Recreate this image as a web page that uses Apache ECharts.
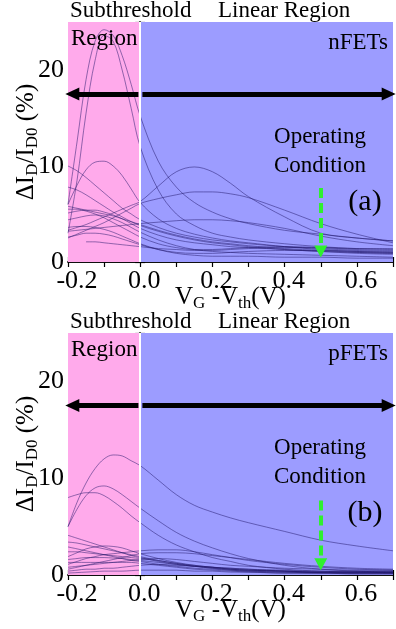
<!DOCTYPE html>
<html><head><meta charset="utf-8">
<script src="https://cdn.jsdelivr.net/npm/echarts@6/dist/echarts.min.js"></script>
<style>html,body{margin:0;padding:0;background:#fff}#c{width:396px;height:629px}</style>
</head><body><div id="c"></div>
<script>
// Gate overdrive V_G - V_th (V) sample points
const xs = [-0.2,-0.175,-0.15,-0.125,-0.1,-0.075,-0.05,-0.025,0,0.05,0.1,0.15,0.2,0.25,0.3,0.4,0.5,0.6,0.7];

// (a) nFETs: Delta I_D / I_D0 (%)
const nA = [6,12.5,19,23,24.2,23.6,21.5,18.5,15.2,10.5,7.8,6.2,5.2,4.5,4.0,3.3,2.9,2.5,2.2];
const nB = [3,8.5,15.5,21,23.6,23,20,16,12,7.5,5.0,3.8,3.0,2.6,2.3,1.9,1.6,1.4,1.3];
const nC = [6,8,9.6,10.4,10.5,10,9,7.6,6.2,4.5,3.5,2.9,2.5,2.2,2.0,1.6,1.3,1.1,1.0];
const nD = [10,9.5,8.8,8,7.2,6.4,5.6,5.0,4.4,3.6,3.0,2.6,2.3,2.1,1.9,1.6,1.4,1.2,1.1];
const nE = [3.3,3.6,3.9,4.3,4.7,5.1,5.5,5.9,6.3,7.9,9.4,9.9,9.4,8.2,6.8,4.7,3.0,2.5,2.2];
const nF = [2.5,2.9,3.3,3.7,4.1,4.6,5.1,5.6,6.1,6.6,7.0,7.3,7.3,7.1,6.7,5.4,4.0,2.9,2.0];
const nG = [3.2,3.3,3.4,3.5,3.6,3.7,3.8,3.9,4.0,4.15,4.3,4.4,4.4,4.3,4.1,3.5,2.7,2.1,1.7];
const nH = [7.8,7.5,7.0,6.4,5.8,5.2,4.7,4.2,3.8,3.2,2.7,2.3,2.0,1.8,1.6,1.3,1.1,0.9,0.8];
const nI = [null,null,2.1,2.1,2.0,1.9,1.8,1.7,1.6,1.4,1.3,1.2,1.2,1.3,1.4,1.5,1.5,1.4,1.4];
const nJ = [5.8,5.6,5.4,5.2,5.0,4.8,4.5,4.2,3.9,3.3,2.8,2.4,2.1,1.9,1.7,1.4,1.2,1.0,0.9];
const nK = [5.1,5.3,5.4,5.4,5.2,4.9,4.5,4.0,3.5,2.8,2.3,2.0,1.8,1.6,1.5,1.3,1.1,1.0,0.9];
const nL = [4.4,4.6,4.8,4.9,4.8,4.5,4.1,3.6,3.1,2.3,1.7,1.3,1.1,1.0,0.9,0.8,0.7,0.6,0.5];
const nN = [2.6,2.8,3.0,3.0,2.9,2.7,2.4,2.1,1.8,1.3,1.0,0.9,0.9,1.0,1.1,1.2,1.2,1.1,1.0];
const nO = [3.6,3.7,3.7,3.6,3.4,3.1,2.7,2.3,1.9,1.3,0.9,0.7,0.6,0.6,0.6,0.5,0.5,0.4,0.4];
const nP = [5.5,5.5,5.3,5.0,4.6,4.1,3.6,3.1,2.6,1.9,1.5,1.3,1.3,1.4,1.5,1.6,1.5,1.3,1.2];
const nfetCurves = [nA,nB,nC,nD,nE,nF,nG,nH,nI,nJ,nK,nL,nN,nO,nP];

// (b) pFETs
const p1 = [5.0,7.5,9.5,11.0,12.0,12.4,12.3,11.8,11.3,9.8,8.3,7.2,6.5,5.9,5.4,4.5,3.6,3.0,2.5];
const p2 = [5.0,6.8,8.2,9.0,9.2,8.9,8.3,7.6,6.9,5.6,4.4,3.5,2.8,2.2,1.7,1.0,0.6,0.4,0.3];
const p3 = [8.0,8.3,8.5,8.5,8.2,7.6,6.9,6.1,5.4,4.1,3.1,2.4,1.8,1.4,1.0,0.6,0.4,0.3,0.3];
const q1 = [4.1,3.8,3.5,3.2,2.9,2.6,2.3,2.0,1.8,1.4,1.1,0.9,0.7,0.6,0.5,0.4,0.3,0.3,0.3];
const q2 = [3.4,3.3,3.1,2.9,2.7,2.5,2.3,2.1,1.9,1.5,1.2,0.9,0.7,0.5,0.4,0.3,0.2,0.2,0.2];
const q3 = [1.9,2.3,2.7,2.9,3.0,2.95,2.8,2.5,2.2,1.7,1.3,1.0,0.8,0.6,0.5,0.4,0.3,0.3,0.3];
const q4 = [1.1,1.4,1.7,1.9,2.1,2.2,2.3,2.4,2.5,2.6,2.6,2.4,2.1,1.8,1.5,1.1,0.8,0.6,0.5];
const q5 = [0.6,0.8,1.0,1.2,1.4,1.6,1.8,2.0,2.2,2.3,2.3,2.2,2.0,1.8,1.6,1.2,0.9,0.7,0.6];
const q6 = [2.4,2.4,2.3,2.2,2.1,2.0,1.9,1.8,1.7,1.5,1.2,1.0,0.8,0.7,0.6,0.4,0.3,0.3,0.2];
const q7 = [1.6,1.7,1.8,1.8,1.8,1.75,1.7,1.6,1.5,1.3,1.1,0.9,0.8,0.7,0.6,0.5,0.4,0.4,0.4];
const q8 = [0.8,0.9,1.0,1.1,1.2,1.3,1.4,1.5,1.6,1.7,1.6,1.4,1.2,1.0,0.9,0.7,0.6,0.5,0.5];
const q9 = [1.3,1.3,1.3,1.3,1.3,1.3,1.3,1.3,1.2,1.0,0.8,0.6,0.5,0.4,0.3,0.2,0.2,0.15,0.15];
const q10 = [0.4,0.5,0.6,0.6,0.7,0.7,0.8,0.9,1.0,1.1,1.0,0.9,0.8,0.6,0.5,0.4,0.3,0.3,0.3];
const q11 = [0.2,0.25,0.3,0.35,0.4,0.4,0.4,0.45,0.5,0.5,0.5,0.4,0.4,0.3,0.3,0.2,0.2,0.1,0.1];
const q12 = [2.9,2.7,2.5,2.3,2.1,1.9,1.7,1.5,1.4,1.1,0.9,0.7,0.6,0.5,0.4,0.3,0.25,0.2,0.2];
const pfetCurves = [p1,p2,p3,q1,q2,q3,q4,q5,q6,q7,q8,q9,q10,q11,q12];

const xTickLabels = ['-0.2','0.0','0.2','0.4','0.6'];
const yTickLabels = ['0','10','20'];
const xRange = [-0.2, 0.7];
const yRange = [0, 25];
const regionBoundary = 0;      // subthreshold | linear
const arrowLevel = 17.5;       // double arrow height (%)
const operatingVg = 0.5;       // operating condition
const opArrow = [7.7, 0.5];    // green arrow from/to (%)

const FONT = '"Liberation Serif","Times New Roman",serif';
const PINK = '#ffaaeb';
const BLUE = '#9c9cff';
const LINE = 'rgba(30,20,105,0.62)';

const chart = echarts.init(document.getElementById('c'), null, {renderer:'canvas'});

function xAxisCfg(grid, pos) {
  const bottom = pos === 'bottom';
  return {
    type:'value', gridIndex:grid, position:pos, min:xRange[0], max:xRange[1], interval:0.1,
    axisLine:{show:true, lineStyle:{color:'#000', width:1.5}},
    axisTick:{show:true, inside:true, length:5, lineStyle:{color:'#000', width:1.2}},
    splitLine:{show:false},
    axisLabel:{show:bottom, margin:6, color:'#000', fontFamily:FONT, fontSize:26, hideOverlap:false,
      formatter:v => {
        const s = (Math.abs(v) < 1e-9 ? 0 : v).toFixed(1);
        if (!xTickLabels.includes(s)) return '';
        return s.charAt(0) === '-' ? '{f|' + s + '}' : '{n|' + s + '}';
      },
      rich:{
        n:{fontFamily:FONT, fontSize:26, color:'#000', padding:[0,0,0,8]},
        f:{fontFamily:FONT, fontSize:26, color:'#000', padding:[0,0,0,18]}
      }},
    name: bottom ? 'V{s|G} -V{s|th}(V)' : '',
    nameLocation:'middle', nameGap:20, nameMoveOverlap:false,
    nameTextStyle:{color:'#000', fontFamily:FONT, fontSize:25,
      rich:{s:{fontSize:17, fontFamily:FONT, color:'#000', padding:[13,0,0,0]}}}
  };
}
function yAxisCfg(grid, pos) {
  const left = pos === 'left';
  return {
    type:'value', gridIndex:grid, position:pos, min:yRange[0], max:yRange[1], interval:2.5,
    axisLine:{show:true, lineStyle:{color:'#000', width:1.5}},
    axisTick:{show:true, inside:true, length:5, lineStyle:{color:'#000', width:1.2}},
    splitLine:{show:false},
    axisLabel:{show:left, margin:4, color:'#000', fontFamily:FONT, fontSize:26, hideOverlap:false,
      formatter:v => { const s = String(Math.round(v*10)/10); return yTickLabels.includes(s) ? s : ''; }},
    name: left ? 'ΔI{s|D}/I{s|D0} (%)' : '',
    nameLocation:'middle', nameGap:27, nameRotate:90, nameMoveOverlap:false,
    nameTextStyle:{color:'#000', fontFamily:FONT, fontSize:25,
      rich:{s:{fontSize:17, fontFamily:FONT, color:'#000', padding:[13,0,0,0]}}}
  };
}

function panelSeries(curves, gi) {
  const out = [];
  out.push({
    type:'line', xAxisIndex:gi*2, yAxisIndex:gi*2, data:[], z:1, silent:true,
    markArea:{silent:true, z:1, data:[
      [{xAxis:xRange[0], yAxis:yRange[0], itemStyle:{color:PINK, opacity:1}}, {xAxis:regionBoundary, yAxis:yRange[1]}],
      [{xAxis:regionBoundary, yAxis:yRange[0], itemStyle:{color:BLUE, opacity:1}}, {xAxis:xRange[1], yAxis:yRange[1]}]
    ]}
  });
  curves.forEach(c => {
    out.push({
      type:'line', xAxisIndex:gi*2, yAxisIndex:gi*2, z:3, silent:true,
      data: xs.map((x,i) => [x, c[i]]),
      showSymbol:false, smooth:0.35, connectNulls:false,
      lineStyle:{color:LINE, width:0.8}
    });
  });
  out.push({
    type:'line', xAxisIndex:gi*2, yAxisIndex:gi*2, data:[], z:4, silent:true,
    markLine:{silent:true, z:4, animation:false, label:{show:false}, emphasis:{disabled:true},
      data:[
        [{coord:[regionBoundary, yRange[0]], symbol:'none', lineStyle:{color:'#fff', width:2, type:'solid'}},
         {coord:[regionBoundary, yRange[1]], symbol:'none'}],
        [{coord:[xRange[0]+0.012, arrowLevel], symbol:'triangle', symbolSize:[13,14], lineStyle:{color:'#000', width:5, type:'solid'}, itemStyle:{color:'#000'}},
         {coord:[regionBoundary-0.005, arrowLevel], symbol:'none'}],
        [{coord:[regionBoundary+0.006, arrowLevel], symbol:'none', lineStyle:{color:'#000', width:5, type:'solid'}, itemStyle:{color:'#000'}},
         {coord:[xRange[1]-0.012, arrowLevel], symbol:'triangle', symbolSize:[13,14]}],
        [{coord:[operatingVg, opArrow[0]], symbol:'none', lineStyle:{color:'#2ff02f', width:4, type:[10,5]}, itemStyle:{color:'#2ff02f'}},
         {coord:[operatingVg, opArrow[1]+0.6], symbol:'triangle', symbolSize:[13,12]}]
      ]}
  });
  return out;
}

function txt(t, x, y, size, align) {
  return {type:'text', x:x, y:y, z:100, silent:true,
    style:{text:t, fontFamily:FONT, fontSize:size, fill:'#000', align:align||'left', verticalAlign:'middle'}};
}
function panelText(dy, tag, label) {
  return [
    txt('Subthreshold', 70, 11+dy, 23),
    txt('Linear Region', 218, 11+dy, 23),
    txt('Region', 71, 39+dy, 23),
    txt(tag, 388, 43+dy, 23, 'right'),
    txt('Operating', 320, 137+dy, 23, 'center'),
    txt('Condition', 320, 166+dy, 23, 'center'),
    txt(label, 365, 202+dy, 30, 'center')
  ];
}

chart.setOption({
  animation:false,
  backgroundColor:'#fff',
  grid:[
    {left:68, top:22, width:325, height:240, containLabel:false, outerBoundsMode:'none'},
    {left:68, top:333, width:325, height:242, containLabel:false, outerBoundsMode:'none'}
  ],
  xAxis:[xAxisCfg(0,'bottom'), xAxisCfg(0,'top'), xAxisCfg(1,'bottom'), xAxisCfg(1,'top')],
  yAxis:[yAxisCfg(0,'left'), yAxisCfg(0,'right'), yAxisCfg(1,'left'), yAxisCfg(1,'right')],
  series:[...panelSeries(nfetCurves,0), ...panelSeries(pfetCurves,1)],
  graphic:[...panelText(0,'nFETs','(a)'), ...panelText(311,'pFETs','(b)')]
});
</script></body></html>
